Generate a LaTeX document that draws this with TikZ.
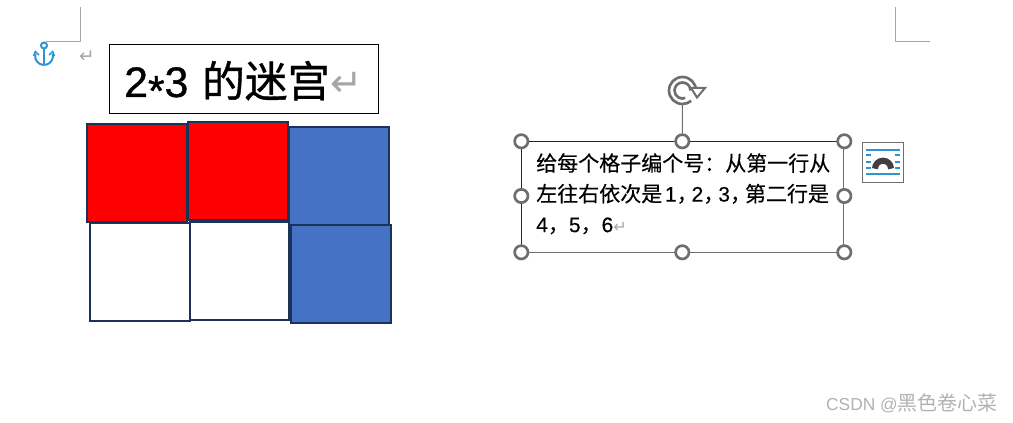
\documentclass[tikz,border=0pt]{standalone}
\usepackage{fontspec}
\usepackage{xcolor}
\setmainfont{Liberation Sans}
\newfontfamily\cjk{Noto Sans CJK SC}
\newfontfamily\cjkmed[FakeBold=0.3]{Noto Sans CJK SC}
\newfontfamily\latmed[FakeBold=0.3]{Liberation Sans}
\newfontfamily\cjkheavy[FakeBold=0.9]{Noto Sans CJK SC}
\newfontfamily\latheavy[FakeBold=0.9]{Liberation Sans}
\newfontfamily\marksym{DejaVu Sans}
\definecolor{cellline}{HTML}{1B3358}
\definecolor{cellblue}{HTML}{4472C4}
\definecolor{cellred}{HTML}{FF0000}
\definecolor{handlegray}{HTML}{6E6E6E}
\definecolor{markgray}{HTML}{A6A6A6}
\definecolor{wordblue}{HTML}{2E95D3}
\definecolor{wordblack}{HTML}{404040}
\newcommand{\narrowcomma}{{\cjkmed ，}\kern-4.5pt}
\tikzset{
  mazecell/.style={draw=cellline, line width=1.5pt, minimum width=75pt, minimum height=73.5pt, inner sep=0pt},
  sizehandle/.style={circle, draw=handlegray, fill=white, line width=2pt, minimum size=10pt, inner sep=0pt},
  noteedge/.style={draw=black!85, line width=1.1pt},
  cropline/.style={draw=markgray, line width=0.75pt}
}
\begin{document}
\begin{tikzpicture}[x=0.75pt, y=-0.75pt]
\useasboundingbox (0,0) rectangle (1013,423);
\draw[cropline] (80.5,7) -- (80.5,41.5) -- (46,41.5);
\draw[cropline] (895.5,7) -- (895.5,41.5) -- (930,41.5);
\draw[wordblue, line width=1.5pt] (44,45.5) circle (3);
\draw[wordblue, line width=1.5pt] (44,49) -- (44,65);
\draw[wordblue, line width=1.5pt] (52.7,53.6) arc[start angle=-15, end angle=195, radius=9];
\draw[wordblue, line width=1.1pt] (33.5,56) -- (35.3,51.5) -- (39,55);
\draw[wordblue, line width=1.1pt] (49,55) -- (52.7,51.5) -- (54.5,56);
\node[text=markgray, inner sep=0pt, font=\marksym\fontsize{14}{14}\selectfont] (parmark) at (87,57) {↵};
\node[draw=black, line width=0.8pt, minimum width=201.75pt, minimum height=51.75pt, inner sep=0pt] (title) at (244,79) {};
\node[anchor=base west, inner sep=0pt, font=\latheavy\fontsize{32}{36}\selectfont] (titletext) at (124,97) {2\raisebox{-0.2em}{*}3\kern1.5pt{} {\cjkheavy 的迷宫}\textcolor{markgray}{\marksym\fontsize{29}{29}\selectfont ↵}};
\node[mazecell, fill=white, minimum width=74.5pt] (c4) at (140,272) {};
\node[mazecell, fill=white, minimum width=74pt] (c5) at (239.6,271.3) {};
\node[mazecell, fill=cellred] (c1) at (137,173.2) {};
\node[mazecell, fill=cellred, minimum width=74.5pt] (c2) at (238,171.3) {};
\node[mazecell, fill=cellblue] (c3) at (339,176) {};
\node[mazecell, fill=cellblue] (c6) at (340.8,273.7) {};
\node[draw=handlegray, line width=0.75pt, minimum width=241.5pt, minimum height=83.25pt, inner sep=0pt] (note) at (682.5,196.7) {};
\node[anchor=north west, inner sep=0pt, align=left, font=\latmed\fontsize{15.75}{22.9}\selectfont] (notetext) at (536,153) {{\cjkmed 给每个格子编个号：从第一行从}\\{\cjkmed 左往右依次是}\kern2pt 1\narrowcomma 2\narrowcomma 3\narrowcomma{\cjkmed 第二行是}\\4{\cjkmed ，}5{\cjkmed ，}6\textcolor{markgray}{\marksym\fontsize{12}{12}\selectfont ↵}};
\node[sizehandle] (hNW) at (521.3,141.3) {};
\node[sizehandle] (hN) at (682.3,141.3) {};
\node[sizehandle] (hNE) at (844.3,141.3) {};
\node[sizehandle] (hW) at (521.3,196) {};
\node[sizehandle] (hE) at (844.3,196) {};
\node[sizehandle] (hSW) at (521.3,252.3) {};
\node[sizehandle] (hS) at (682.3,252.3) {};
\node[sizehandle] (hSE) at (844.3,252.3) {};
\draw[noteedge] (hNW) -- (hN);
\draw[noteedge] (hN) -- (hNE);
\draw[noteedge] (hNW) -- (hW);
\draw[noteedge] (hW) -- (hSW);
\node[circle, minimum size=21pt, inner sep=0pt] (rotknob) at (682.5,90.5) {};
\draw[handlegray, line width=0.75pt] (rotknob) -- (hN);
\draw[handlegray, line width=2pt] (696,90.5) arc[start angle=0, end angle=-310, radius=13.5];
\draw[handlegray, line width=2pt] (690.5,90.5) arc[start angle=0, end angle=-290, radius=8];
\draw[handlegray, line width=1.5pt, line join=miter, fill=white] (691,88) -- (705,88) -- (697,97.5) -- cycle;
\node[draw=handlegray, line width=0.9pt, fill=white, minimum width=30.5pt, minimum height=30.5pt, inner sep=0pt] (wrapicon) at (883,162.5) {};
\draw[wordblue, line width=0.9pt] (866,150) -- (900,150);
\draw[wordblue, line width=0.9pt] (866,174) -- (900,174);
\foreach \y in {155,162,168}{
  \draw[wordblue, line width=0.9pt] (866,\y) -- (871,\y);
  \draw[wordblue, line width=0.9pt] (895,\y) -- (900,\y);
}
\draw[wordblack, line width=4.5pt] (875,168.7) arc[start angle=180, end angle=360, radius=8];
\node[anchor=base east, inner sep=0pt, text=black!30, font=\fontsize{13}{16}\selectfont] (watermark) at (998,411) {CSDN @{\cjk\fontsize{15}{16}\selectfont 黑色卷心菜}};
\end{tikzpicture}
\end{document}
